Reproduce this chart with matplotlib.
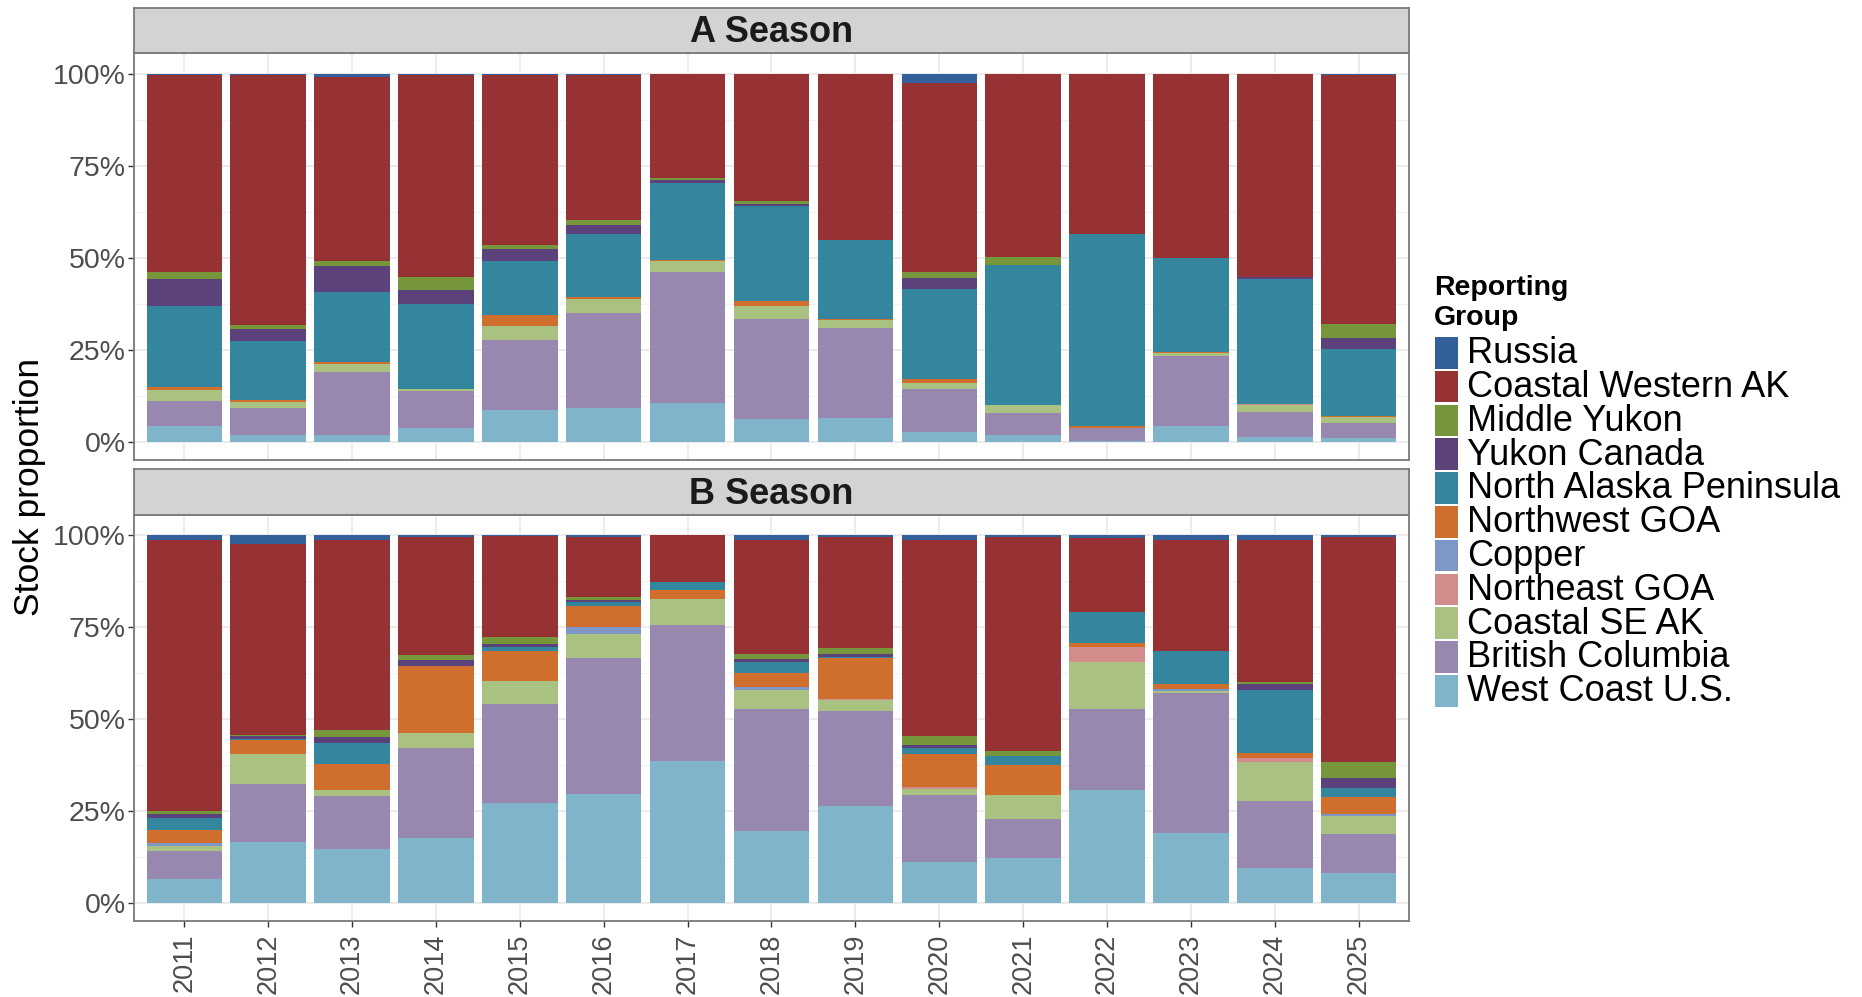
import matplotlib
matplotlib.use("Agg")
import matplotlib.pyplot as plt
from matplotlib.patches import Rectangle
import numpy as np

plt.rcParams['font.family'] = ['Liberation Sans', 'DejaVu Sans']

years = ["2011", "2012", "2013", "2014", "2015", "2016", "2017", "2018",
         "2019", "2020", "2021", "2022", "2023", "2024", "2025"]

# stacking order: bottom -> top
groups = ["West Coast U.S.", "British Columbia", "Coastal SE AK", "Northeast GOA",
          "Copper", "Northwest GOA", "North Alaska Peninsula", "Yukon Canada",
          "Middle Yukon", "Coastal Western AK", "Russia"]
colors = ["#7FB4CB", "#9888AF", "#A9C281", "#D38C8C", "#7D97C7", "#D06E2E",
          "#34869F", "#5C427A", "#75963A", "#963234", "#335F9A"]

# A Season (percent)
a_west_coast = [4.2, 1.9, 2.0, 3.9, 8.7, 9.1, 10.7, 6.3, 6.6, 2.7, 2.0, 0.2, 4.2, 1.4, 1.2]
a_brit_col   = [6.9, 7.2, 17.0, 9.9, 19.0, 26.0, 35.3, 27.2, 24.3, 11.8, 5.8, 3.6, 19.1, 6.8, 4.0]
a_se_ak      = [3.0, 1.8, 2.1, 0.7, 3.9, 3.8, 3.0, 3.3, 2.2, 1.6, 2.1, 0.0, 0.8, 1.7, 1.5]
a_ne_goa     = [0, 0, 0, 0, 0, 0, 0, 0, 0, 0, 0, 0, 0, 0.4, 0]
a_copper     = [0, 0, 0, 0, 0, 0, 0, 0, 0, 0, 0, 0, 0, 0, 0]
a_nw_goa     = [0.7, 0.4, 0.6, 0.0, 2.8, 0.5, 0.5, 1.4, 0.2, 0.9, 0.0, 0.4, 0.3, 0.0, 0.4]
a_nap        = [22.1, 16.0, 19.0, 22.9, 14.6, 17.0, 20.8, 25.8, 21.5, 24.6, 38.1, 52.3, 25.5, 34.0, 18.1]
a_yukon_can  = [7.4, 3.3, 7.1, 3.9, 3.5, 2.5, 0.8, 0.7, 0.0, 3.0, 0.0, 0.0, 0.0, 0.6, 3.0]
a_mid_yukon  = [1.8, 1.1, 1.3, 3.5, 1.0, 1.3, 0.5, 0.6, 0.0, 1.5, 2.2, 0.0, 0.0, 0.0, 3.9]
a_cw_ak      = [53.6, 68.0, 49.9, 54.7, 46.0, 39.3, 28.2, 34.7, 45.2, 51.4, 49.8, 43.5, 50.1, 54.9, 67.5]
a_russia     = [0.3, 0.3, 1.0, 0.5, 0.5, 0.5, 0.2, 0.0, 0.0, 2.5, 0.0, 0.0, 0.0, 0.2, 0.4]

# B Season (percent)
b_west_coast = [6.4, 16.7, 14.6, 17.6, 27.2, 29.6, 38.5, 19.7, 26.3, 11.2, 12.3, 30.8, 18.9, 9.6, 8.1]
b_brit_col   = [7.7, 15.6, 14.4, 24.5, 26.8, 37.1, 37.2, 33.0, 25.9, 18.1, 10.4, 22.0, 38.3, 18.2, 10.7]
b_se_ak      = [1.3, 8.1, 1.8, 4.0, 6.4, 6.5, 6.9, 5.3, 3.0, 1.8, 6.6, 12.8, 0.5, 10.6, 4.9]
b_ne_goa     = [0, 0, 0, 0, 0, 0, 0, 0, 0.3, 0.4, 0, 3.9, 0, 1.0, 0]
b_copper     = [0.8, 0, 0, 0, 0, 1.8, 0, 0.7, 0, 0, 0, 0, 0.4, 0, 0.5]
b_nw_goa     = [3.6, 3.8, 7.1, 18.3, 8.1, 5.7, 2.6, 3.8, 11.2, 9.1, 8.1, 1.1, 1.5, 1.4, 4.6]
b_nap        = [3.3, 0.3, 5.7, 0.0, 1.0, 1.2, 2.0, 3.0, 0.3, 1.5, 2.7, 8.4, 9.0, 17.0, 2.4]
b_yukon_can  = [1.0, 0.8, 1.4, 1.7, 1.0, 0.6, 0.0, 0.8, 0.6, 0.8, 0.0, 0.0, 0.0, 1.8, 2.7]
b_mid_yukon  = [0.9, 0.4, 2.1, 1.4, 1.8, 0.7, 0.2, 1.5, 1.6, 2.4, 1.1, 0.0, 0.0, 0.4, 4.3]
b_cw_ak      = [73.8, 52.0, 51.7, 32.1, 27.5, 16.4, 12.6, 31.0, 30.3, 53.5, 58.4, 20.3, 30.2, 38.8, 61.2]
b_russia     = [1.2, 2.3, 1.2, 0.4, 0.2, 0.4, 0.0, 1.2, 0.5, 1.2, 0.4, 0.7, 1.2, 1.2, 0.6]

season_a = [a_west_coast, a_brit_col, a_se_ak, a_ne_goa, a_copper, a_nw_goa,
            a_nap, a_yukon_can, a_mid_yukon, a_cw_ak, a_russia]
season_b = [b_west_coast, b_brit_col, b_se_ak, b_ne_goa, b_copper, b_nw_goa,
            b_nap, b_yukon_can, b_mid_yukon, b_cw_ak, b_russia]

W, H = 1862, 997
fig = plt.figure(figsize=(W / 100, H / 100), dpi=100)

def fx(px):
    return px / W

def fy(py):
    return 1 - py / H

left, right = 134, 1409
panels = [("A Season", season_a, 8, 53.3, 460),
          ("B Season", season_b, 469.3, 515, 921)]

x = np.arange(len(years))
border_col = "#7a7a7a"
for idx, (title, data, s_top, p_top, p_bot) in enumerate(panels):
    ax = fig.add_axes([fx(left), fy(p_bot), fx(right) - fx(left), (p_bot - p_top) / H])
    # strip
    sax = fig.add_axes([fx(left), fy(p_top), fx(right) - fx(left), (p_top - s_top) / H])
    sax.set_facecolor("#D3D3D3")
    sax.set_xticks([]); sax.set_yticks([])
    for sp in sax.spines.values():
        sp.set_color(border_col); sp.set_linewidth(1.3)
    sax.text(0.5, 0.45, title, transform=sax.transAxes, ha="center", va="center",
             fontsize=26, fontweight="bold", color="#1a1a1a")

    totals = np.array(data, dtype=float).sum(axis=0)
    bottom = np.zeros(len(years))
    for g, vals, c in zip(groups, data, colors):
        v = np.array(vals, dtype=float) / totals
        ax.bar(x, v, width=0.9, bottom=bottom, color=c, linewidth=0, zorder=3)
        bottom += v

    ax.set_xlim(-0.6, len(years) - 0.4)
    ax.set_ylim(-0.049, 1.055)
    ax.set_yticks([0, 0.25, 0.5, 0.75, 1.0])
    ax.set_yticklabels(["0%", "25%", "50%", "75%", "100%"])
    ax.set_yticks(np.arange(0.125, 1.0, 0.25), minor=True)
    ax.set_xticks(x)
    ax.grid(True, which="major", color="#EBEBEB", linewidth=1.3, zorder=0)
    ax.grid(True, which="minor", axis="y", color="#F2F2F2", linewidth=0.8, zorder=0)
    ax.set_axisbelow(True)
    ax.tick_params(axis="y", which="major", labelsize=20.5, labelcolor="#4D4D4D",
                   color="#333333", length=4, width=1, pad=2)
    ax.tick_params(axis="y", which="minor", length=0)
    if idx == 0:
        ax.tick_params(axis="x", length=0, labelbottom=False)
    else:
        ax.set_xticklabels(years, rotation=90)
        ax.tick_params(axis="x", labelsize=19.5, labelcolor="#4D4D4D",
                       color="#333333", length=4, width=1, pad=5)
    for sp in ax.spines.values():
        sp.set_color(border_col); sp.set_linewidth(1.3)

fig.text(fx(30), fy(487), "Stock proportion", rotation=90, ha="center", va="center",
         fontsize=25.5, color="black")

# legend (drawn in figure coordinates)
fig.text(fx(1434), fy(275), "Reporting\nGroup", ha="left", va="top", fontsize=20.5,
         fontweight="bold", linespacing=1.2)
key_top0, key_step, key_h, key_w = 337, 33.8, 31.5, 23
legend_order = list(range(len(groups)))[::-1]
for i, gi in enumerate(legend_order):
    top = key_top0 + i * key_step
    fig.add_artist(Rectangle((fx(1435), fy(top + key_h)), key_w / W, key_h / H,
                             transform=fig.transFigure, facecolor=colors[gi],
                             edgecolor="none"))
    fig.text(fx(1467), fy(top + key_h / 2 + 1), groups[gi], ha="left", va="center",
             fontsize=26, color="black")

fig.savefig("out.png", dpi=100)
